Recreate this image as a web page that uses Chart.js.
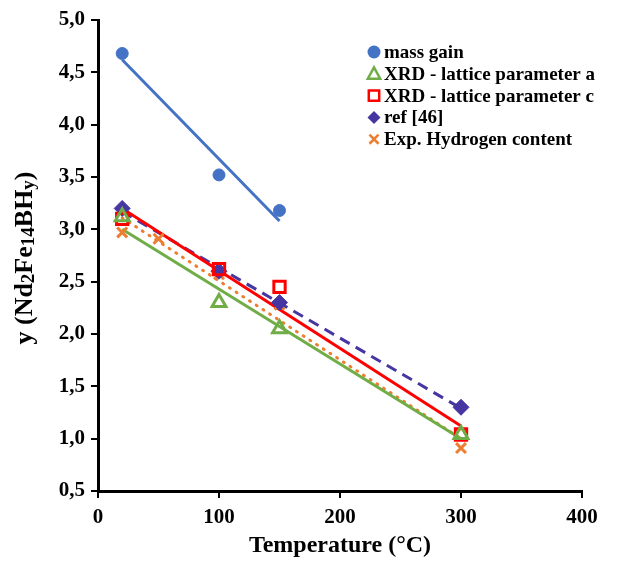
<!DOCTYPE html>
<html>
<head>
<meta charset="utf-8">
<script src="https://cdn.jsdelivr.net/npm/chart.js@4"></script>
<style>
  html, body { margin: 0; padding: 0; background: #fff; }
  #wrap { width: 636px; height: 564px; }
</style>
</head>
<body>
<div id="wrap"><canvas id="chart" width="636" height="564"></canvas></div>
<script>
// ---------------- data ----------------
const massT = [20, 100, 150];
const massY = [4.68, 3.52, 3.18];

const xrdT = [20, 100, 150, 300];
const xrdAY = [3.12, 2.30, 2.05, 1.04];
const xrdCY = [3.10, 2.62, 2.45, 1.04];
const refY = [3.20, 2.60, 2.30, 1.30];

const hT = [20, 50, 100, 150, 300];
const hY = [2.97, 2.91, 2.57, 2.28, 0.91];

// trendline end points (as drawn in the figure)
const massTrendT = [20, 150];
const massTrendY = [4.62, 3.08];
const trendT = [20, 300];
const xrdATrendY = [3.00, 1.00];
const xrdCTrendY = [3.20, 1.12];
const refTrendY = [3.17, 1.29];
const hTrendY = [3.11, 1.00];

const xTicks = [0, 100, 200, 300, 400];
const yTicks = [0.5, 1.0, 1.5, 2.0, 2.5, 3.0, 3.5, 4.0, 4.5, 5.0];

const BLUE = '#4472C4', GREEN = '#70AD47', RED = '#FF0000', PURPLE = '#4636A2', ORANGE = '#ED7D31';
const FONT = "'Liberation Serif', 'Times New Roman', serif";

const pts = (xs, ys) => xs.map((x, i) => ({ x: x, y: ys[i] }));

function trend(label, xs, ys, color, dash) {
  return {
    label: label, type: 'line', data: pts(xs, ys),
    borderColor: color, borderWidth: 3, borderDash: dash || [],
    borderCapStyle: dash && dash[0] < 3 ? 'round' : 'butt',
    pointRadius: 0, fill: false, showLine: true, order: 2
  };
}

const scatterSets = [
  { label: 'mass gain', data: pts(massT, massY), pointStyle: 'circle', pointRadius: 6,
    backgroundColor: BLUE, borderColor: BLUE, borderWidth: 1 },
  { label: 'XRD - lattice parameter a', data: pts(xrdT, xrdAY), pointStyle: 'triangle', pointRadius: 8,
    backgroundColor: 'rgba(255,255,255,0)', borderColor: GREEN, borderWidth: 3 },
  { label: 'XRD - lattice parameter c', data: pts(xrdT, xrdCY), pointStyle: 'rect', pointRadius: 8,
    backgroundColor: 'rgba(255,255,255,0)', borderColor: RED, borderWidth: 3 },
  { label: 'ref [46]', data: pts(xrdT, refY), pointStyle: 'rectRot', pointRadius: 8,
    backgroundColor: PURPLE, borderColor: PURPLE, borderWidth: 1 },
  { label: 'Exp. Hydrogen content', data: pts(hT, hY), pointStyle: 'crossRot', pointRadius: 7,
    backgroundColor: ORANGE, borderColor: ORANGE, borderWidth: 3 }
].map(d => Object.assign(d, { showLine: false, order: 1 }));

const datasets = scatterSets.concat([
  trend('trend mass', massTrendT, massTrendY, BLUE),
  trend('trend a', trendT, xrdATrendY, GREEN),
  trend('trend c', trendT, xrdCTrendY, RED),
  trend('trend ref', trendT, refTrendY, PURPLE, [11, 7]),
  trend('trend H', trendT, hTrendY, ORANGE, [1, 7])
]);

// ---------------- small marker drawer for the legend ----------------
function marker(ctx, style, x, y, r, fill, stroke, lw) {
  ctx.save();
  ctx.beginPath();
  ctx.lineWidth = lw;
  ctx.strokeStyle = stroke;
  ctx.fillStyle = fill;
  if (style === 'circle') {
    ctx.arc(x, y, r, 0, Math.PI * 2);
    ctx.fill();
  } else if (style === 'triangle') {
    ctx.moveTo(x, y - r);
    ctx.lineTo(x + r * 0.95, y + r * 0.75);
    ctx.lineTo(x - r * 0.95, y + r * 0.75);
    ctx.closePath();
    ctx.stroke();
  } else if (style === 'rect') {
    ctx.rect(x - r * 0.8, y - r * 0.8, r * 1.6, r * 1.6);
    ctx.stroke();
  } else if (style === 'rectRot') {
    ctx.moveTo(x, y - r); ctx.lineTo(x + r, y); ctx.lineTo(x, y + r); ctx.lineTo(x - r, y);
    ctx.closePath();
    ctx.fill();
  } else if (style === 'crossRot') {
    ctx.moveTo(x - r * 0.7, y - r * 0.7); ctx.lineTo(x + r * 0.7, y + r * 0.7);
    ctx.moveTo(x + r * 0.7, y - r * 0.7); ctx.lineTo(x - r * 0.7, y + r * 0.7);
    ctx.stroke();
  }
  ctx.restore();
}

const legendPlugin = {
  id: 'insideLegend',
  afterDraw(chart) {
    const ctx = chart.ctx;
    const x0 = 374, y0 = 52, step = 21.8;
    ctx.save();
    ctx.font = 'bold 19px ' + FONT;
    ctx.fillStyle = '#000';
    ctx.textBaseline = 'middle';
    scatterSets.forEach((d, i) => {
      const y = y0 + i * step;
      const fill = d.backgroundColor === 'rgba(255,255,255,0)' ? '#fff' : d.backgroundColor;
      marker(ctx, d.pointStyle, x0, y, 6.5, fill, d.borderColor, 2.5);
      ctx.fillText(d.label, x0 + 10, y + 1);
    });
    ctx.restore();
  }
};

// y axis title with subscripts: y (Nd2Fe14BHy)
const yTitlePlugin = {
  id: 'yTitle',
  afterDraw(chart) {
    const ctx = chart.ctx;
    const parts = [['y (Nd', false], ['2', true], ['Fe', false], ['14', true], ['BH', false], ['y', true], [')', false]];
    const big = 'bold 26px ' + FONT, small = 'bold 19px ' + FONT;
    ctx.save();
    let total = 0;
    parts.forEach(p => { ctx.font = p[1] ? small : big; total += ctx.measureText(p[0]).width; });
    ctx.translate(23, 258);
    ctx.rotate(-Math.PI / 2);
    ctx.fillStyle = '#000';
    ctx.textBaseline = 'alphabetic';
    let x = -total / 2;
    parts.forEach(p => {
      ctx.font = p[1] ? small : big;
      ctx.fillText(p[0], x, p[1] ? 11 : 9);
      x += ctx.measureText(p[0]).width;
    });
    ctx.restore();
  }
};

const ctx = document.getElementById('chart').getContext('2d');

new Chart(ctx, {
  type: 'scatter',
  data: { datasets: datasets },
  plugins: [legendPlugin, yTitlePlugin],
  options: {
    responsive: false,
    animation: false,
    layout: { padding: { top: 20, right: 54, left: 0, bottom: 0 } },
    plugins: { legend: { display: false }, tooltip: { enabled: false } },
    scales: {
      x: {
        type: 'linear', min: 0, max: 400,
        afterBuildTicks: s => { s.ticks = xTicks.map(v => ({ value: v })); },
        afterFit: s => { s.height = 73; },
        ticks: { color: '#000', font: { family: FONT, size: 21, weight: 'bold' }, padding: 7 },
        grid: { drawOnChartArea: false, drawTicks: true, tickLength: 7, color: '#000', lineWidth: 2 },
        border: { color: '#000', width: 3 },
        title: { display: true, text: 'Temperature (°C)', color: '#000',
                 font: { family: FONT, size: 24, weight: 'bold' }, padding: { top: 0 } }
      },
      y: {
        type: 'linear', min: 0.5, max: 5,
        afterBuildTicks: s => { s.ticks = yTicks.map(v => ({ value: v })); },
        afterFit: s => { s.width = 98; },
        ticks: { color: '#000', font: { family: FONT, size: 21, weight: 'bold' }, padding: 6,
                 callback: v => v.toFixed(1).replace('.', ',') },
        grid: { drawOnChartArea: false, drawTicks: true, tickLength: 7, color: '#000', lineWidth: 2 },
        border: { color: '#000', width: 3 }
      }
    }
  }
});
</script>
</body>
</html>
